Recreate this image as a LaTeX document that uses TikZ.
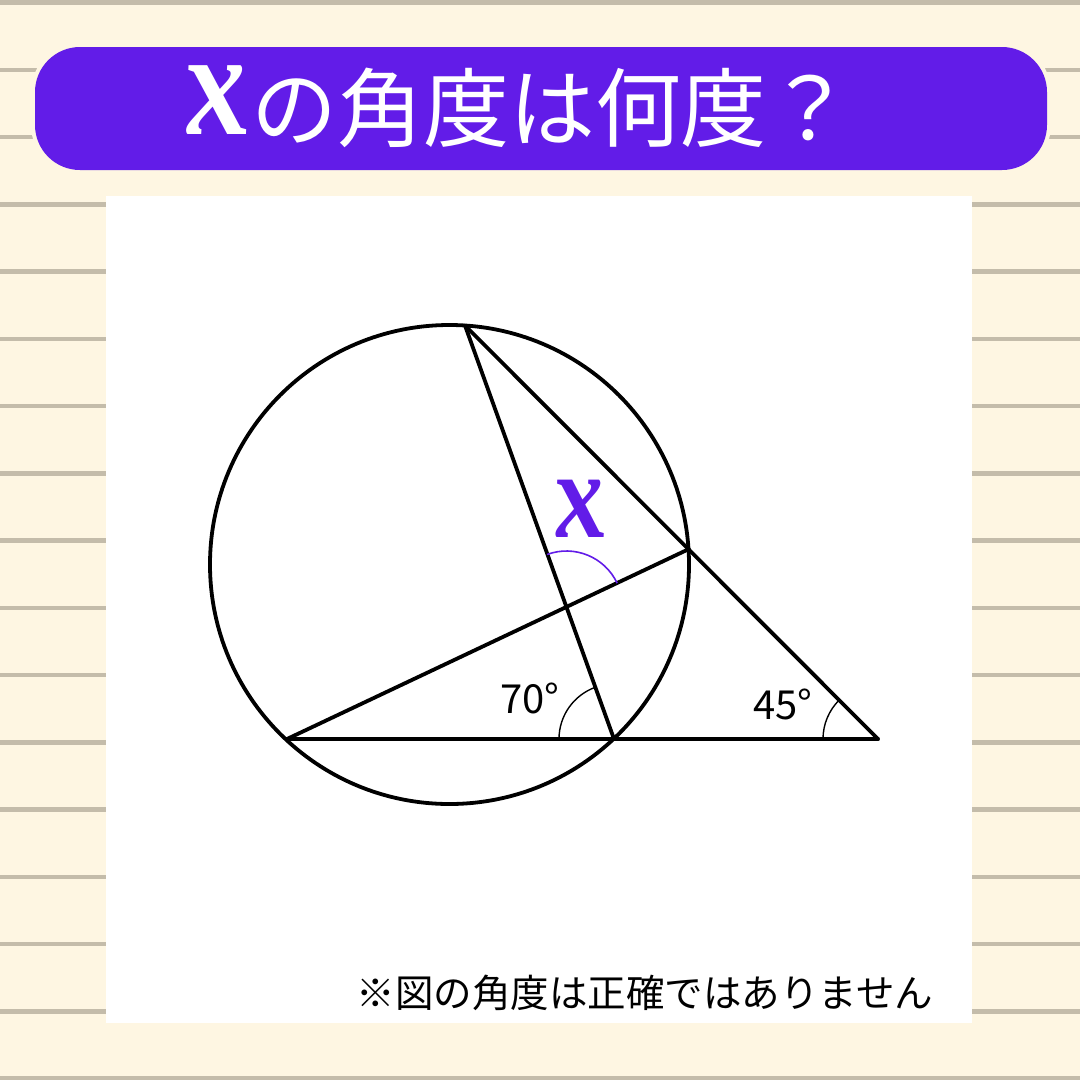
\documentclass[tikz,border=0pt]{standalone}
\usepackage{fontspec}
\newfontfamily\jp{Noto Sans CJK JP}
\newfontfamily\xfont{Liberation Serif}
\usetikzlibrary{calc}
\definecolor{cream}{RGB}{254,246,226}
\definecolor{rulegrey}{RGB}{196,188,170}
\definecolor{bannerpurple}{RGB}{98,28,232}
\tikzset{
  geo/.style={black, line width=3.8pt, line join=round, line cap=round},
  anglearc/.style={black, line width=1.4pt},
  xarc/.style={bannerpurple, line width=1.6pt},
  deglabel/.style={inner sep=0pt, font=\jp\fontsize{40}{44}\selectfont},
  xglyph/.style={inner sep=0pt, xslant=-0.1, transform shape},
}
\begin{document}
\begin{tikzpicture}[x=1pt,y=-1pt]
\useasboundingbox (0,0) rectangle (1080,1080);
\fill[cream] (0,0) rectangle (1080,1080);
\foreach \k in {0,...,16}
  \draw[rulegrey, line width=4.5pt] (0,{2.5+67.25*\k}) -- (1080,{2.5+67.25*\k});
% banner
\draw[cream, line width=8pt, rounded corners=45pt] (35,47) rectangle (1047,170);
\fill[bannerpurple, rounded corners=45pt] (35,47) rectangle (1047,170);
\node[xglyph, text=white] (tx) at (217,100)
  {\xfont\bfseries\itshape\fontsize{150}{150}\selectfont\scalebox{0.85}[1]{x}};
\node[inner sep=0pt, text=white, font=\jp\fontsize{86}{90}\selectfont] (title) at (552,108)
  {の角度は何度？};
% panel
\fill[white] (106,196) rectangle (972,1023);
% geometry
\coordinate (C) at (449.5,564.5);
\coordinate (P) at (465,325.5);
\coordinate (Q) at (689,549);
\coordinate (L) at (287,739);
\coordinate (M) at (614,739);
\coordinate (E) at (878,739);
\coordinate (X) at (intersection of P--M and L--Q);
\draw[geo] (C) circle[radius=239.5];
\draw[geo] (P) -- (M);
\draw[geo] (P) -- (E);
\draw[geo] (L) -- (Q);
\draw[geo] (L) -- (E);
% angle arcs
\draw[anglearc] ($(M)+(-180:55)$) arc[start angle=-180, end angle=-109.8, radius=55];
\draw[anglearc] ($(E)+(-180:55)$) arc[start angle=-180, end angle=-135, radius=55];
\draw[xarc] ($(X)+(-110.2:56)$) arc[start angle=-110.2, end angle=-25.2, radius=56];
% labels
\node[deglabel] (l70) at (530,698) {70°};
\node[deglabel] (l45) at (783,704) {45°};
\node[xglyph, text=bannerpurple] (lx) at (580,509)
  {\xfont\bfseries\itshape\fontsize{125}{125}\selectfont\scalebox{0.82}[1]{x}};
\node[inner sep=0pt, font=\jp\fontsize{38.5}{42}\selectfont] (note) at (645,993)
  {※図の角度は正確ではありません};
\end{tikzpicture}
\end{document}
